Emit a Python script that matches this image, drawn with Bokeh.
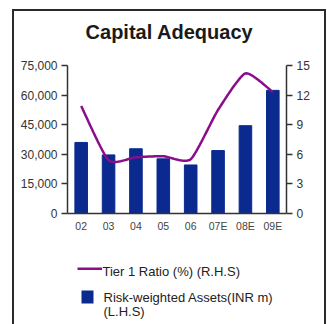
from bokeh.plotting import figure
from bokeh.layouts import column
from bokeh.models import Range1d, LinearAxis, FixedTicker, NumeralTickFormatter
from bokeh.core.properties import value
from bokeh.embed import file_html
from bokeh.resources import INLINE

# Data
years = ["02", "03", "04", "05", "06", "07E", "08E", "09E"]
rwa = [36000, 29700, 32800, 27700, 24600, 31900, 44500, 62400]   # INR m (L.H.S)
tier1 = [10.9, 5.4, 5.7, 5.8, 5.5, 10.5, 14.2, 12.3]             # % (R.H.S)
left_ticks = [0, 15000, 30000, 45000, 60000, 75000]
right_ticks = [0, 3, 6, 9, 12, 15]
title = "Capital Adequacy"
line_label = "Tier 1 Ratio (%) (R.H.S)"
bar_label = ["Risk-weighted Assets(INR m)", "(L.H.S)"]

FONT = "Liberation Sans"
BAR = "#0b2a8f"
LINE = "#8b0d8b"
AXIS = "#333333"

# Boxed panel: inner area from x=14..324, y=11..
X0, Y0, INNER_W = 14, 11, 310
ML, MR = 53, 38          # side borders shared by the stacked plots
FRAME_L, FRAME_R = X0 + ML, X0 + INNER_W - MR
TITLE_H = 46
MAIN_H = 183
LEG_H = 100


def blank_panel(top, height):
    """Axis-less panel whose frame lines up with the chart frame, in page pixels."""
    f = figure(width=INNER_W, height=height,
               x_range=Range1d(FRAME_L, FRAME_R), y_range=Range1d(top + height, top),
               x_axis_type=None, y_axis_type=None,
               output_backend="svg", toolbar_location=None,
               min_border_left=ML, min_border_right=MR,
               min_border_top=0, min_border_bottom=0)
    f.outline_line_color = None
    f.grid.grid_line_color = None
    return f


# Title
tp = blank_panel(Y0, TITLE_H)
tp.text([169], [31.5], text=[title], text_font=value(FONT), text_font_style="bold",
        text_font_size="20px", text_color="#1a1a1a",
        text_align="center", text_baseline="alphabetic")

# Main chart
p = figure(width=INNER_W, height=MAIN_H, x_range=years, y_range=Range1d(0, 75000),
           output_backend="svg", toolbar_location=None,
           min_border_left=ML, min_border_right=MR,
           min_border_top=8, min_border_bottom=27)
p.outline_line_color = None
p.xgrid.grid_line_color = None
p.ygrid.grid_line_color = None

p.vbar(x=years, top=rwa, width=0.46, color=BAR)

# Smoothed (cardinal spline) path through the Tier 1 values on the right axis
p.extra_y_ranges = {"ratio": Range1d(0, 15)}
pts = [(i + 0.5, v) for i, v in enumerate(tier1)]
n = len(pts)
c = 0.3
tang = []
for i in range(n):
    a = pts[max(i - 1, 0)]
    b = pts[min(i + 1, n - 1)]
    tang.append((c * (b[0] - a[0]), c * (b[1] - a[1])))
xs, ys = [], []
steps = 20
for k in range(n - 1):
    p1, p2 = pts[k], pts[k + 1]
    m1, m2 = tang[k], tang[k + 1]
    for s in range(steps + (1 if k == n - 2 else 0)):
        t = s / steps
        h00 = 2 * t**3 - 3 * t**2 + 1
        h10 = t**3 - 2 * t**2 + t
        h01 = -2 * t**3 + 3 * t**2
        h11 = t**3 - t**2
        xs.append(h00 * p1[0] + h10 * m1[0] + h01 * p2[0] + h11 * m2[0])
        ys.append(h00 * p1[1] + h10 * m1[1] + h01 * p2[1] + h11 * m2[1])
p.line(xs, ys, y_range_name="ratio", line_color=LINE, line_width=2.5)

# Axes
def style(ax, size="12px"):
    ax.axis_line_color = AXIS
    ax.axis_line_width = 1.5
    ax.major_tick_line_color = AXIS
    ax.major_tick_line_width = 1.5
    ax.major_tick_out = 6
    ax.major_tick_in = 0
    ax.minor_tick_line_color = None
    ax.major_label_text_font = FONT
    ax.major_label_text_font_size = size
    ax.major_label_text_color = "#333333"
    ax.major_label_standoff = 4

ly = p.yaxis[0]
ly.ticker = FixedTicker(ticks=left_ticks)
ly.formatter = NumeralTickFormatter(format="0,0")
style(ly)

ry = LinearAxis(y_range_name="ratio", ticker=FixedTicker(ticks=right_ticks))
style(ry)
p.add_layout(ry, "right")

bx = p.xaxis[0]
style(bx, "10.5px")
bx.major_tick_line_color = None
bx.major_tick_out = 0
bx.major_label_text_color = "#444444"
bx.major_label_standoff = 6

# Legend
lg = blank_panel(Y0 + TITLE_H + MAIN_H, LEG_H)
lg.line([77, 101.5], [268.3, 268.3], line_color=LINE, line_width=2.5)
lg.text([102], [271], text=[line_label], text_font=value(FONT),
        text_font_size="13px", text_color="#222222", text_baseline="middle")
lg.quad(left=[81], right=[93], top=[290], bottom=[303], fill_color=BAR, line_color=None)
lg.text([103, 103], [296.5, 310.5], text=bar_label, text_font=value(FONT),
        text_font_size="13px", text_color="#222222", text_baseline="middle")

layout = column(tp, p, lg, spacing=0, margin=(Y0, 0, 0, X0),
                styles={"outline": "2px solid #2a2a2a", "background": "white"})

open("out.html", "w").write(file_html(layout, INLINE))
